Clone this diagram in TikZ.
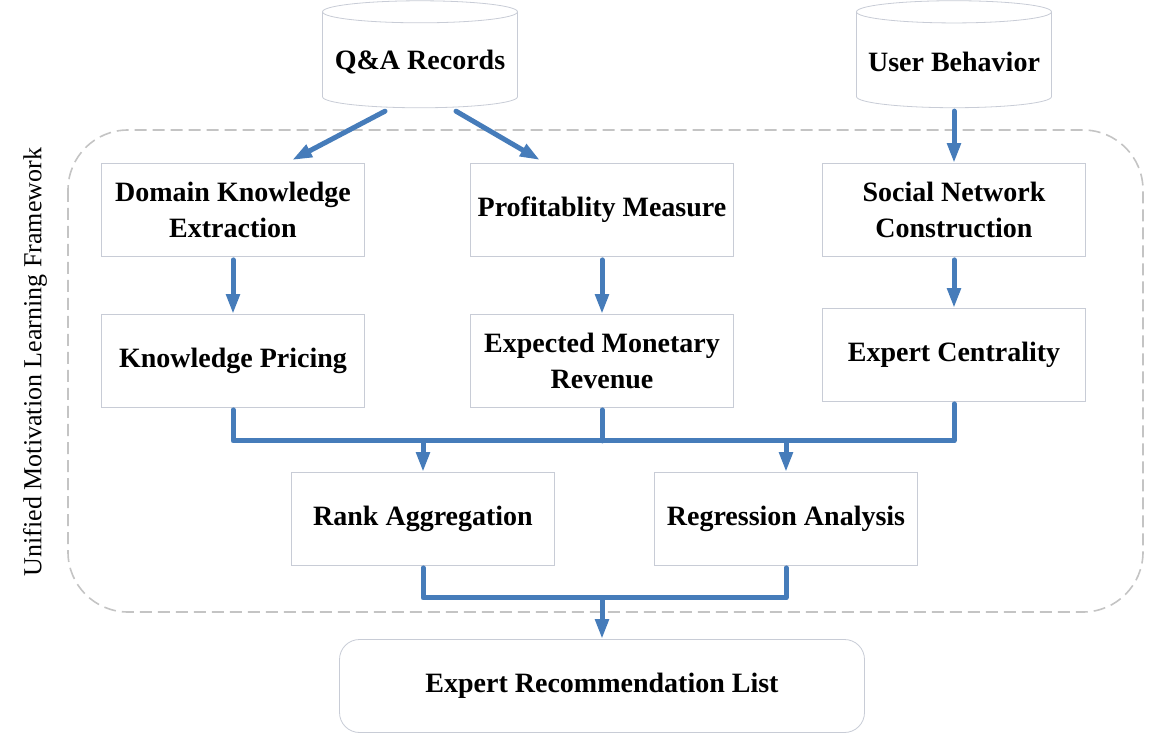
\documentclass[tikz,border=0pt]{standalone}
\usepackage{fontspec}
\setmainfont{Liberation Serif}
\usetikzlibrary{positioning,shapes.geometric,arrows.meta,calc}
\definecolor{flowblue}{RGB}{70,124,186}
\definecolor{boxgray}{RGB}{200,204,214}
\definecolor{framegray}{RGB}{196,196,196}

\begin{document}
\begin{tikzpicture}[node distance=75pt,on grid,>={Triangle[length=10pt,width=6.5pt]}]

    \tikzset{proc/.style={draw=boxgray,fill=white,rectangle,minimum width=131.5pt,minimum height=46.5pt,align=center,font=\fontsize{14}{18}\selectfont\bfseries}}
    \tikzset{db/.style={draw=boxgray,fill=white,cylinder,shape border rotate=90,aspect=0.12,minimum width=97.5pt,minimum height=53.5pt,font=\fontsize{14}{18}\selectfont\bfseries}}
    \tikzset{flow/.style={->,draw=flowblue,line width=2.5pt,line join=round,line cap=round}}
    \tikzset{frame/.style={draw=framegray,line width=0.8pt,dash pattern=on 6pt off 3pt,rounded corners=30pt}}

    \useasboundingbox (0,0) rectangle (576pt,-371.5pt);

    \node[proc] (dke) at (116.5pt,-105pt) {Domain Knowledge\\Extraction};
    \node[proc] (pm) [right = 184.5pt of dke] {Profitablity Measure};
    \node[proc] (snc) [right = 176pt of pm] {Social Network\\Construction};
    \node[proc] (kp) [below = 75.5pt of dke] {Knowledge Pricing};
    \node[proc] (emr) [below = 75.5pt of pm] {Expected Monetary\\Revenue};
    \node[proc] (ec) [below = 72.5pt of snc] {Expert Centrality};
    \node[proc] (ra) [below right = 79pt and 95pt of kp] {Rank Aggregation};
    \node[proc] (rega) [right = 181.5pt of ra] {Regression Analysis};
    \node[proc,rounded corners=10pt,minimum width=262.5pt] (erl) [below = 162.5pt of emr] {Expert Recommendation List};
    \node[db] (qa) [above right = 74pt and 93.5pt of dke] {Q\&A Records};
    \node[db] (ub) [above = 74pt of snc] {User Behavior};

    % dashed framework box and its label
    \coordinate (fnw) at ([xshift=-82.5pt,yshift=40pt]dke.center);
    \coordinate (fse) at ([xshift=455pt,yshift=-201pt]dke.center);
    \draw[frame] (fnw) rectangle (fse);
    \node[rotate=90,font=\fontsize{13}{15}\selectfont] (umlf) at ($(fnw)!0.5!(fnw|-fse)+(-16.5pt,4.5pt)$) {Unified Motivation Learning Framework};

    \draw[flow] ([xshift=-17.5pt,yshift=-1.5pt]qa.south) -- ([xshift=29.5pt,yshift=1.5pt]dke.north);
    \draw[flow] ([xshift=18pt,yshift=-1.5pt]qa.south) -- ([xshift=-31pt,yshift=1.5pt]pm.north);
    \draw[flow] ([yshift=-1.5pt]ub.south) -- (snc.north);
    \draw[flow] ([yshift=-1.5pt]dke.south) -- (kp.north);
    \draw[flow] ([yshift=-1.5pt]pm.south) -- (emr.north);
    \draw[flow] ([yshift=-1.5pt]snc.south) -- (ec.north);

    % merge lines
    \coordinate[below = 16.5pt of emr.south] (bus1);
    \draw[flow,-] ([yshift=-1pt]kp.south) |- (bus1) -| ([yshift=-1pt]ec.south);
    \draw[flow,-] ([yshift=-1pt]emr.south) -- (bus1);
    \draw[flow] (ra.north |- bus1) -- (ra.north);
    \draw[flow] (rega.north |- bus1) -- (rega.north);
    \coordinate[below = 16pt of ra.south] (bus2);
    \draw[flow,-] ([yshift=-1pt]ra.south) |- (bus2) -| ([yshift=-1pt]rega.south);
    \draw[flow] (erl.north |- bus2) -- (erl.north);
\end{tikzpicture}
\end{document}
